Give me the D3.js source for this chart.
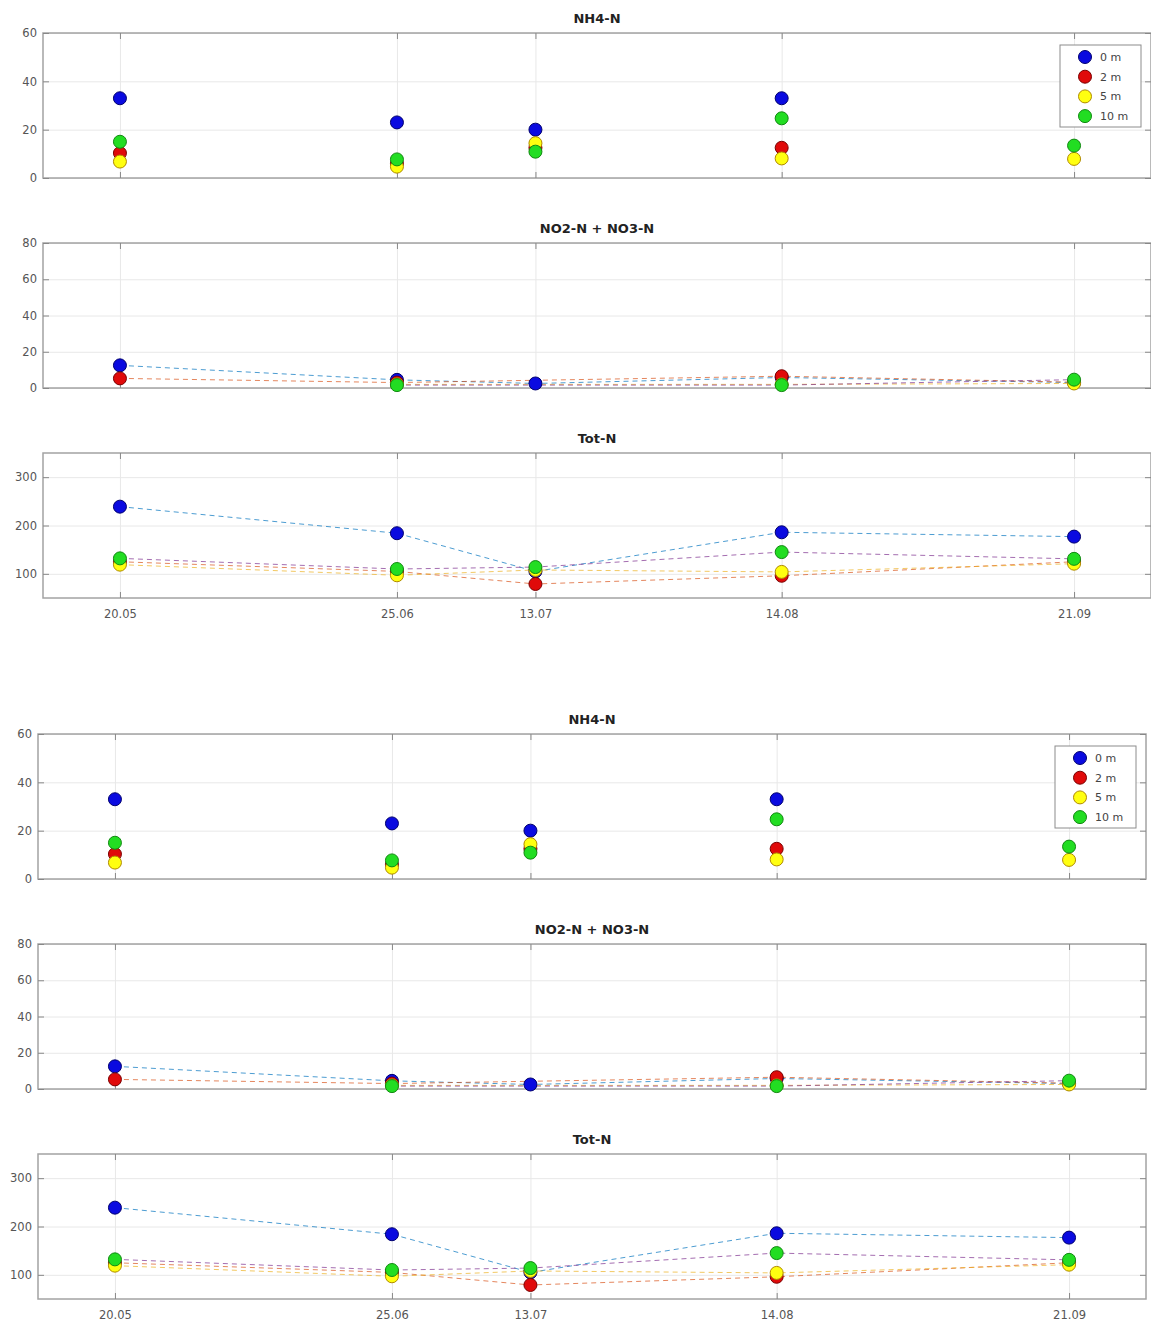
<!DOCTYPE html>
<html>
<head>
<meta charset="utf-8">
<script src="https://cdn.jsdelivr.net/npm/d3@7"></script>
<style>
  html, body { margin: 0; padding: 0; background: #fff; }
  svg { display: block; }
  text { font-family: "DejaVu Sans", "Liberation Sans", sans-serif; }
</style>
</head>
<body>
<svg id="chart" width="1151" height="1328"></svg>
<script>
// ---------------- DATA ----------------
const dates = ["2019-05-20", "2019-06-25", "2019-07-13", "2019-08-14", "2019-09-21"];
const xTickLabels = ["20.05", "25.06", "13.07", "14.08", "21.09"];
const depths = ["0 m", "2 m", "5 m", "10 m"];

// NH4-N
const nh4_0m  = [33, 23, 20, 33, 30];
const nh4_2m  = [10.3, 6, 12.5, 12.5, null];
const nh4_5m  = [6.8, 4.7, 14.4, 8.1, 7.9];
const nh4_10m = [15, 7.7, 10.9, 24.7, 13.4];

// NO2-N + NO3-N
const no_0m  = [12.5, 4.5, 2.5, 5.8, 3];
const no_2m  = [5.3, 3, null, 6.5, 3.2];
const no_5m  = [null, 2, null, 2, 2.5];
const no_10m = [null, 1.6, null, 1.6, 4.6];

// Tot-N
const tot_0m  = [239, 184, 105, 186, 177];
const tot_2m  = [125, 105, 79, 96, 125];
const tot_5m  = [119, 97, 108, 104, 121];
const tot_10m = [132, 110, 114, 145, 131];

const nh4Ticks = [0, 20, 40, 60];
const noTicks  = [0, 20, 40, 60, 80];
const totTicks = [100, 200, 300];

// ---------------- STYLE ----------------
const markerFill   = ["#0a0ae0", "#e00a0a", "#ffff10", "#22dd22"];
const markerStroke = ["#00006e", "#7a0000", "#b08a00", "#118811"];
const lineColors   = ["#0072BD", "#D95319", "#EDB120", "#7E2F8E"];

const parse = d3.timeParse("%Y-%m-%d");
const dateObjs = dates.map(parse);
const W = 1108, H = 145;

const panels = [
  { title: "NH4-N", series: [nh4_0m, nh4_2m, nh4_5m, nh4_10m], domain: [0, 60], ticks: nh4Ticks, top: 33, lines: false, legend: true, xlabels: false },
  { title: "NO2-N + NO3-N", series: [no_0m, no_2m, no_5m, no_10m], domain: [0, 80], ticks: noTicks, top: 243, lines: true, legend: false, xlabels: false },
  { title: "Tot-N", series: [tot_0m, tot_2m, tot_5m, tot_10m], domain: [50, 350], ticks: totTicks, top: 453, lines: true, legend: false, xlabels: true }
];

const svg = d3.select("#chart");
const x = d3.scaleTime().domain([parse("2019-05-10"), parse("2019-10-01")]).range([0, W]);

function drawFigure(ox, oy) {
  const fig = svg.append("g").attr("transform", `translate(${ox},${oy})`);
  panels.forEach(p => {
    const g = fig.append("g").attr("transform", `translate(0,${p.top})`);
    const y = d3.scaleLinear().domain(p.domain).range([H, 0]);

    // grid
    g.append("g").attr("class", "grid")
      .call(d3.axisLeft(y).tickValues(p.ticks).tickSize(-W).tickFormat(""))
      .call(s => s.select(".domain").remove())
      .call(s => s.selectAll("line").attr("stroke", "#e8e8e8"));
    g.append("g").attr("class", "grid").attr("transform", `translate(0,${H})`)
      .call(d3.axisBottom(x).tickValues(dateObjs).tickSize(-H).tickFormat(""))
      .call(s => s.select(".domain").remove())
      .call(s => s.selectAll("line").attr("stroke", "#e8e8e8"));

    // box
    g.append("rect").attr("x", 0).attr("y", 0).attr("width", W).attr("height", H)
      .attr("fill", "none").attr("stroke", "#a3a3a3").attr("stroke-width", 1.5);

    // axes (inward ticks)
    const yAx = g.append("g")
      .call(d3.axisLeft(y).tickValues(p.ticks).tickSizeInner(-6).tickSizeOuter(0).tickPadding(6));
    yAx.select(".domain").remove();
    yAx.selectAll("line").attr("stroke", "#888");
    yAx.selectAll("text").attr("fill", "#555").style("font-size", "11.5px");

    const yAxR = g.append("g").attr("transform", `translate(${W},0)`)
      .call(d3.axisRight(y).tickValues(p.ticks).tickSizeInner(-6).tickSizeOuter(0).tickFormat(""));
    yAxR.select(".domain").remove();
    yAxR.selectAll("line").attr("stroke", "#888");

    const xAx = g.append("g").attr("transform", `translate(0,${H})`)
      .call(d3.axisBottom(x).tickValues(dateObjs).tickSizeInner(-6).tickSizeOuter(0).tickPadding(12)
        .tickFormat((d, i) => p.xlabels ? xTickLabels[i] : ""));
    xAx.select(".domain").remove();
    xAx.selectAll("line").attr("stroke", "#888");
    xAx.selectAll("text").attr("fill", "#555").style("font-size", "11.5px");

    const xAxT = g.append("g")
      .call(d3.axisTop(x).tickValues(dateObjs).tickSizeInner(-6).tickSizeOuter(0).tickFormat(""));
    xAxT.select(".domain").remove();
    xAxT.selectAll("line").attr("stroke", "#888");

    // title
    g.append("text").attr("x", W / 2).attr("y", -10).attr("text-anchor", "middle")
      .style("font-size", "13px").style("font-weight", "bold").attr("fill", "#222")
      .text(p.title);

    // dashed lines
    if (p.lines) {
      p.series.forEach((s, si) => {
        const pts = s.map((v, i) => ({ d: dateObjs[i], v })).filter(o => o.v !== null);
        g.append("path").datum(pts)
          .attr("fill", "none").attr("stroke", lineColors[si]).attr("stroke-width", 1)
          .attr("stroke-opacity", 0.7).attr("stroke-dasharray", "5,4")
          .attr("d", d3.line().x(o => x(o.d)).y(o => y(o.v)));
      });
    }

    // markers
    p.series.forEach((s, si) => {
      const pts = s.map((v, i) => ({ d: dateObjs[i], v })).filter(o => o.v !== null);
      g.append("g").selectAll("circle").data(pts).join("circle")
        .attr("cx", o => x(o.d)).attr("cy", o => y(o.v)).attr("r", 6.5)
        .attr("fill", markerFill[si]).attr("stroke", markerStroke[si]).attr("stroke-width", 1);
    });

    // legend
    if (p.legend) {
      const lg = g.append("g").attr("transform", `translate(1017,${45 - p.top})`);
      lg.append("rect").attr("width", 81).attr("height", 82)
        .attr("fill", "#fff").attr("stroke", "#8c8c8c").attr("stroke-width", 1);
      depths.forEach((dname, i) => {
        const row = lg.append("g").attr("transform", `translate(0,${12 + i * 19.7})`);
        row.append("circle").attr("cx", 25).attr("cy", 0).attr("r", 6.5)
          .attr("fill", markerFill[i]).attr("stroke", markerStroke[i]);
        row.append("text").attr("x", 40).attr("y", 0).attr("dy", "0.35em")
          .style("font-size", "11px").attr("fill", "#444").text(dname);
      });
    }
  });
}

drawFigure(43, 0);
drawFigure(38, 701);
</script>
</body>
</html>
